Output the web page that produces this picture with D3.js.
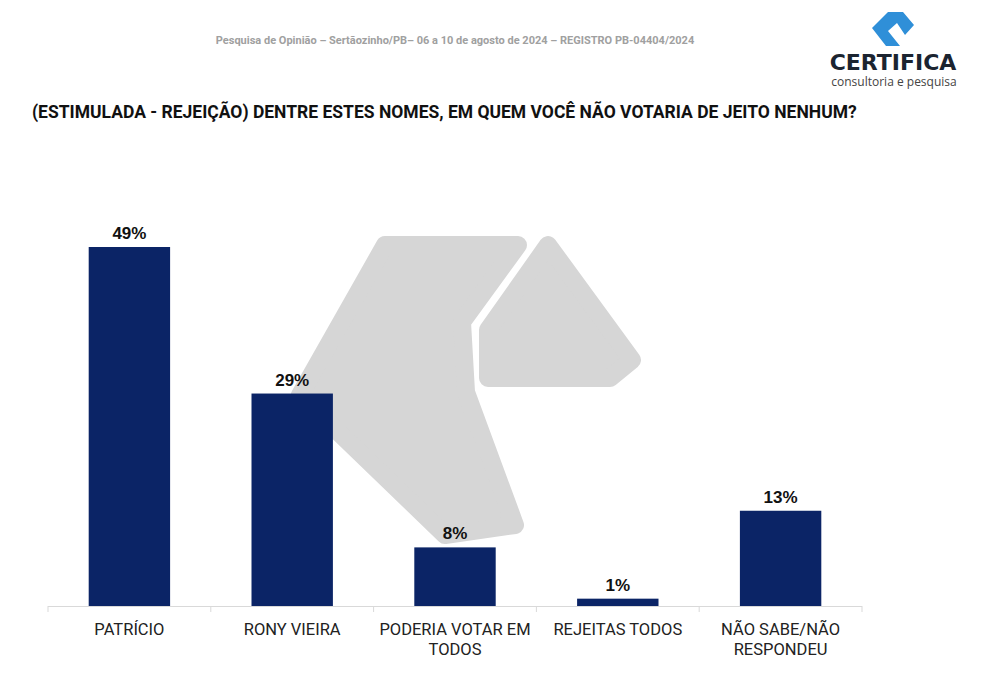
<!DOCTYPE html>
<html><head><meta charset="utf-8">
<script src="https://cdn.jsdelivr.net/npm/d3@7"></script>
<style>body{margin:0;background:#fff}svg{display:block}</style>
</head><body>
<script>
var categories = [["PATRÍCIO"], ["RONY VIEIRA"], ["PODERIA VOTAR EM", "TODOS"], ["REJEITAS TODOS"], ["NÃO SABE/NÃO", "RESPONDEU"]];
var values = [49, 29, 8, 1, 13];

var W = 982, H = 687;
var font = "'Liberation Sans Narrow', Roboto, sans-serif";
var svg = d3.select("body").append("svg").attr("width", W).attr("height", H);

// watermark
var wm = svg.append("g").attr("fill", "#d6d6d6").attr("stroke", "#d6d6d6")
	.attr("stroke-width", 18).attr("stroke-linejoin", "round");
wm.append("path").attr("d", "M385,245 L518,245 L462,322 L466,392 L515,525 L445,535 L300,395 Z");
wm.append("path").attr("d", "M548,245 L632,360 L610,378 L488,378 L488,330 Z");

svg.append("text").attr("x", 455).attr("y", 44).attr("text-anchor", "middle")
	.attr("font-family", font).attr("font-size", 11).attr("font-weight", "bold").attr("fill", "#a0a0a0")
	.text("Pesquisa de Opinião – Sertãozinho/PB– 06 a 10 de agosto de 2024 – REGISTRO PB-04404/2024");

// logo
var logo = svg.append("g");
logo.append("path").attr("d", "M872,28 L888,12 L903,12 L914,25 L905,35 L897,23 L888,31 L900,46 L886,46 Z")
	.attr("fill", "#2f8fd8");
logo.append("text").attr("x", 893).attr("y", 70).attr("text-anchor", "middle")
	.attr("font-family", "'DejaVu Sans', sans-serif").attr("font-size", 22).attr("font-weight", "bold")
	.attr("fill", "#1b2430").text("CERTIFICA");
logo.append("text").attr("x", 894).attr("y", 86).attr("text-anchor", "middle")
	.attr("font-family", "'Open Sans', sans-serif").attr("font-size", 12).attr("fill", "#444")
	.text("consultoria e pesquisa");

svg.append("text").attr("x", 32).attr("y", 118)
	.attr("font-family", font).attr("font-size", 17.5).attr("font-weight", "bold").attr("fill", "#111")
	.text("(ESTIMULADA - REJEIÇÃO) DENTRE ESTES NOMES, EM QUEM VOCÊ NÃO VOTARIA DE JEITO NENHUM?");

var x = d3.scaleBand().domain(d3.range(values.length)).range([48, 862]).paddingInner(0.5).paddingOuter(0.25);
var y = d3.scaleLinear().domain([0, 49]).range([606, 247]);

svg.append("line").attr("x1", 48).attr("x2", 862).attr("y1", 606.5).attr("y2", 606.5)
	.attr("stroke", "#d9d9d9");
var step = (862 - 48) / values.length;
d3.range(values.length + 1).forEach(function(i) {
	svg.append("line").attr("x1", 48 + i * step).attr("x2", 48 + i * step)
		.attr("y1", 606).attr("y2", 612).attr("stroke", "#d9d9d9");
});

svg.selectAll("rect.bar").data(values).join("rect").attr("class", "bar")
	.attr("x", function(d, i) { return x(i); }).attr("width", x.bandwidth())
	.attr("y", function(d) { return y(d); }).attr("height", function(d) { return 606 - y(d); })
	.attr("fill", "#0b2466");

svg.selectAll("text.val").data(values).join("text").attr("class", "val")
	.attr("x", function(d, i) { return x(i) + x.bandwidth() / 2; })
	.attr("y", function(d) { return y(d) - 8; }).attr("text-anchor", "middle")
	.attr("font-family", "'Liberation Sans', Arial, sans-serif").attr("font-size", 17).attr("font-weight", "bold")
	.attr("fill", "#111").text(function(d) { return d + "%"; });

categories.forEach(function(lines, i) {
	var t = svg.append("text").attr("text-anchor", "middle")
		.attr("font-family", font).attr("font-size", 16.5).attr("fill", "#222");
	lines.forEach(function(l, j) {
		t.append("tspan").attr("x", x(i) + x.bandwidth() / 2).attr("y", 635 + j * 20).text(l);
	});
});
</script>
</body></html>
